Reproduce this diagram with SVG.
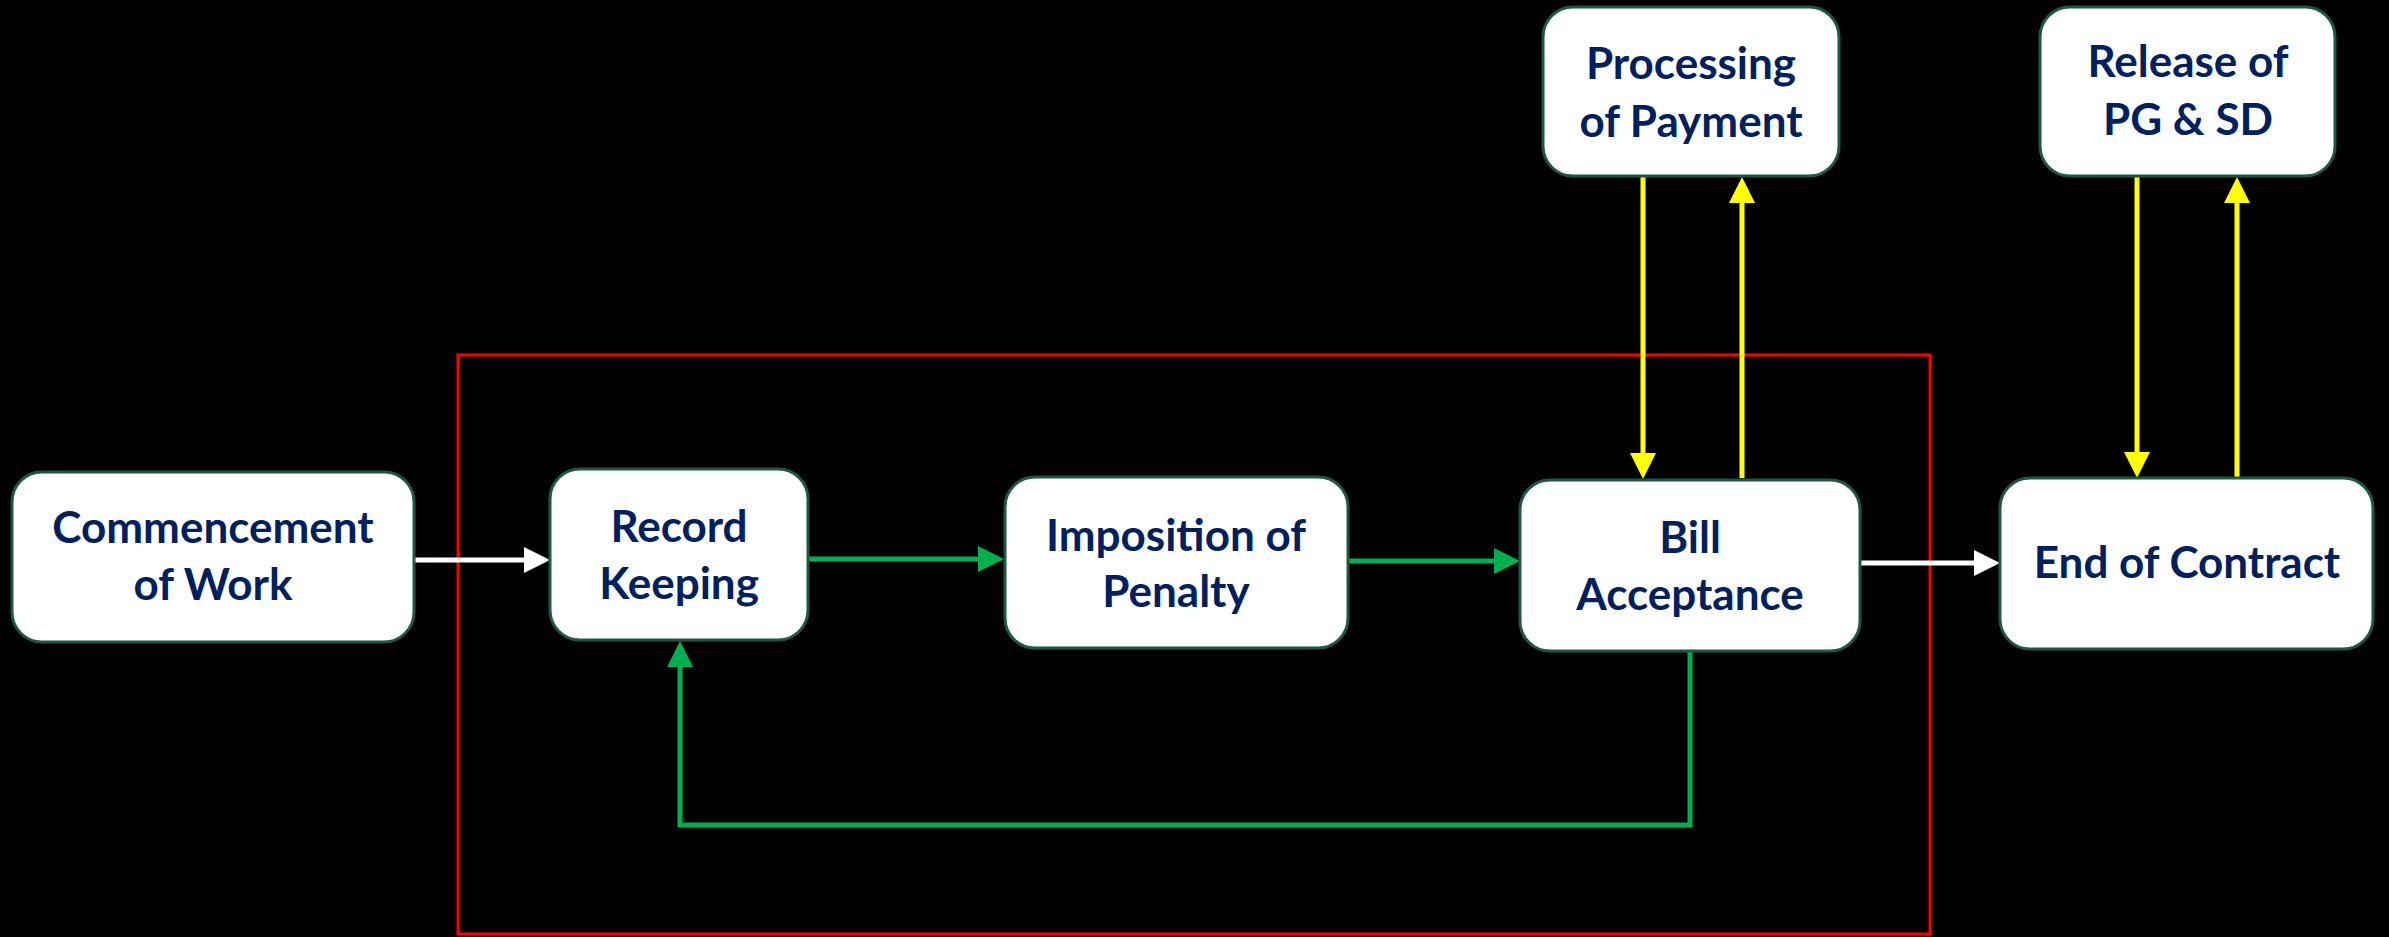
<svg xmlns="http://www.w3.org/2000/svg" width="2389" height="937" viewBox="0 0 2389 937">
<defs>
<style>
.box{fill:#FFFFFF;stroke:#1D5843;stroke-width:3}
.t{font-family:Lato,"Liberation Sans",sans-serif;font-weight:700;font-size:44px;fill:#002060;text-anchor:middle}
.w{stroke:#FFFFFF;stroke-width:5;fill:none}
.g{stroke:#00B050;stroke-width:5;fill:none}
.y{stroke:#FFFF00;stroke-width:5;fill:none}
</style>
<marker id="aw" markerUnits="userSpaceOnUse" markerWidth="26" markerHeight="26" refX="0" refY="13" orient="auto"><path d="M0,0 L26,13 L0,26 z" fill="#FFFFFF"/></marker>
<marker id="ag" markerUnits="userSpaceOnUse" markerWidth="26" markerHeight="26" refX="0" refY="13" orient="auto"><path d="M0,0 L26,13 L0,26 z" fill="#00B050"/></marker>
<marker id="ay" markerUnits="userSpaceOnUse" markerWidth="26" markerHeight="26" refX="0" refY="13" orient="auto"><path d="M0,0 L26,13 L0,26 z" fill="#FFFF00"/></marker>
</defs>
<rect x="0" y="0" width="2389" height="937" fill="#000000"/>
<rect id="frame" x="458" y="355" width="1472" height="579" fill="none" stroke="#FF0000" stroke-width="3"/>
<g id="connectors">
<line class="w" x1="414" y1="560" x2="524" y2="560" marker-end="url(#aw)"/>
<line class="g" x1="808" y1="559" x2="978" y2="559" marker-end="url(#ag)"/>
<line class="g" x1="1348" y1="561" x2="1494" y2="561" marker-end="url(#ag)"/>
<polyline class="g" points="1690,651 1690,825 680,825 680,667" marker-end="url(#ag)"/>
<line class="w" x1="1860" y1="563" x2="1974" y2="563" marker-end="url(#aw)"/>
<line class="y" x1="1643" y1="176" x2="1643" y2="453" marker-end="url(#ay)"/>
<line class="y" x1="1742" y1="478" x2="1742" y2="203" marker-end="url(#ay)"/>
<line class="y" x1="2137" y1="176" x2="2137" y2="452" marker-end="url(#ay)"/>
<line class="y" x1="2237" y1="477" x2="2237" y2="203" marker-end="url(#ay)"/>
</g>
<g id="commencement">
<rect class="box" x="12" y="472" width="402" height="170" rx="30"/>
<text class="t" x="213" y="543">Commencement</text>
<text class="t" x="213" y="600">of Work</text>
</g>
<g id="record">
<rect class="box" x="550" y="469" width="258" height="171" rx="30"/>
<text class="t" x="679" y="542">Record</text>
<text class="t" x="679" y="599">Keeping</text>
</g>
<g id="imposition">
<rect class="box" x="1005" y="477" width="343" height="171" rx="30"/>
<text class="t" x="1176" y="551">Imposition of</text>
<text class="t" x="1176" y="607">Penalty</text>
</g>
<g id="bill">
<rect class="box" x="1520" y="480" width="340" height="171" rx="30"/>
<text class="t" x="1690" y="553">Bill</text>
<text class="t" x="1690" y="610">Acceptance</text>
</g>
<g id="end">
<rect class="box" x="2000" y="478" width="373" height="171" rx="30"/>
<text class="t" x="2187" y="578">End of Contract</text>
</g>
<g id="processing">
<rect class="box" x="1543" y="7" width="296" height="169" rx="30"/>
<text class="t" x="1691" y="79">Processing</text>
<text class="t" x="1691" y="137">of Payment</text>
</g>
<g id="release">
<rect class="box" x="2040" y="7" width="295" height="169" rx="30"/>
<text class="t" x="2188" y="77">Release of</text>
<text class="t" x="2188" y="135">PG &amp; SD</text>
</g>
</svg>
